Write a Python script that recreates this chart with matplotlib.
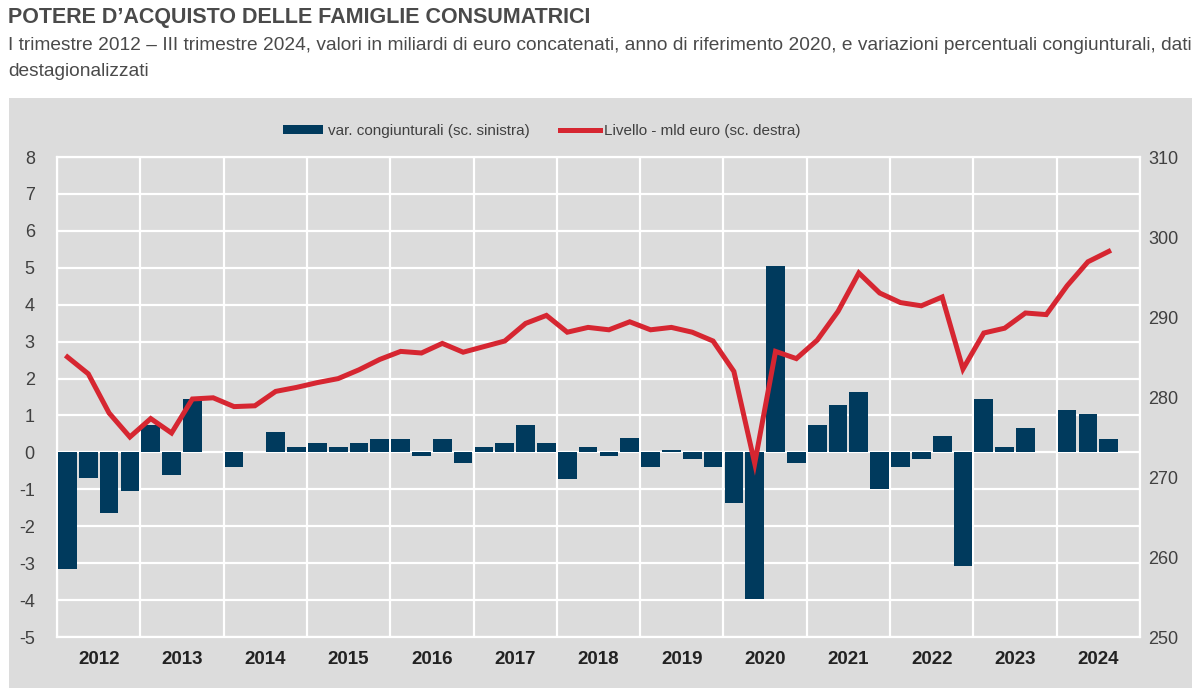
import matplotlib
matplotlib.use("Agg")
import matplotlib.pyplot as plt
from matplotlib import font_manager
from matplotlib.patches import Patch, Rectangle
from matplotlib.lines import Line2D

# quarters 2012Q1 .. 2024Q3
years = ["2012", "2013", "2014", "2015", "2016", "2017", "2018",
         "2019", "2020", "2021", "2022", "2023", "2024"]

var_cong = [-3.15, -0.7, -1.65, -1.05,
            0.75, -0.6, 1.45, 0.0,
            -0.4, 0.0, 0.55, 0.15,
            0.25, 0.15, 0.25, 0.37,
            0.37, -0.1, 0.37, -0.3,
            0.14, 0.25, 0.74, 0.25,
            -0.72, 0.14, -0.1, 0.38,
            -0.4, 0.06, -0.19, -0.4,
            -1.38, -3.98, 5.05, -0.3,
            0.75, 1.27, 1.64, -1.0,
            -0.4, -0.17, 0.45, -3.07,
            1.45, 0.14, 0.67, 0.0,
            1.15, 1.04, 0.36]

livello = [285.0, 282.9, 278.0, 275.0,
           277.3, 275.5, 279.75, 279.9,
           278.8, 278.9, 280.7, 281.2,
           281.8, 282.3, 283.4, 284.7,
           285.7, 285.5, 286.7, 285.6,
           286.3, 287.0, 289.2, 290.2,
           288.1, 288.7, 288.4, 289.4,
           288.4, 288.7, 288.1, 287.0,
           283.2, 271.7, 285.7, 284.8,
           287.1, 290.7, 295.5, 293.0,
           291.8, 291.4, 292.5, 283.5,
           288.0, 288.6, 290.5, 290.3,
           293.9, 296.9, 298.2]

names = {f.name for f in font_manager.fontManager.ttflist}
narrow = "Liberation Sans Narrow" if "Liberation Sans Narrow" in names else "Liberation Sans"
plt.rcParams["font.family"] = [narrow, "DejaVu Sans"]
plt.rcParams["axes.unicode_minus"] = False

BG = "#dcdcdc"
NAVY = "#003a5d"
RED = "#d62631"
TXT = "#404040"

fig = plt.figure(figsize=(12, 6.95), dpi=100)
fig.patches.append(Rectangle((9 / 1200, 1 - 688 / 695), 1183 / 1200, 590 / 695,
                             transform=fig.transFigure, facecolor=BG,
                             edgecolor="none", zorder=-10))

fig.text(8 / 1200, 1 - 18 / 695, "POTERE D\u2019ACQUISTO DELLE FAMIGLIE CONSUMATRICI",
         fontsize=15.5, fontweight="bold", color="#4a4a4a", va="center")
fig.text(8 / 1200, 1 - 45 / 695,
         "I trimestre 2012 \u2013 III trimestre 2024, valori in miliardi di euro concatenati, "
         "anno di riferimento 2020, e variazioni percentuali congiunturali, dati",
         fontsize=13.8, color="#4a4a4a", va="center")
fig.text(8 / 1200, 1 - 72 / 695, "destagionalizzati",
         fontsize=13.8, color="#4a4a4a", va="center")

ax = fig.add_axes([57 / 1200, 58 / 695, 1083 / 1200, 480 / 695])
ax.set_facecolor(BG)
x = list(range(len(var_cong)))
ax.bar(x, var_cong, width=0.9, color=NAVY, linewidth=0, zorder=3)
ax.set_xlim(-0.5, 51.5)
ax.set_ylim(-5, 8)
ax.set_yticks(range(-5, 9))
ax.set_xticks([-0.5 + 4 * k for k in range(14)])
ax.set_xticklabels([])
ax.grid(True, color="white", linewidth=1.6, zorder=0)
ax.set_axisbelow(True)
for s in ax.spines.values():
    s.set_color("white")
    s.set_linewidth(1.6)
ax.tick_params(length=0, labelsize=13, labelcolor=TXT)
ax.tick_params(axis="y", pad=16)
for k, yr in enumerate(years):
    ax.text(1.5 + 4 * k, -5.6, yr, ha="center", va="center",
            fontsize=13.5, fontweight="bold", color="#222222")

ax2 = ax.twinx()
ax2.plot(x, livello, color=RED, linewidth=3.6, solid_joinstyle="miter", zorder=4)
ax2.set_ylim(250, 310)
ax2.set_yticks(range(250, 311, 10))
ax2.tick_params(length=0, labelsize=13, labelcolor=TXT, pad=6)
for s in ax2.spines.values():
    s.set_visible(False)

handles = [Patch(facecolor=NAVY, edgecolor="none"),
           Line2D([0], [0], color=RED, linewidth=3.6)]
fig.legend(handles, ["var. congiunturali (sc. sinistra)", "Livello - mld euro (sc. destra)"],
           loc="center", bbox_to_anchor=(542 / 1200, 1 - 131 / 695), ncol=2,
           frameon=False, fontsize=11, handlelength=2.6, handleheight=0.5,
           handletextpad=0.3, columnspacing=2.0, labelcolor=TXT)

fig.savefig("out.png", dpi=100)
